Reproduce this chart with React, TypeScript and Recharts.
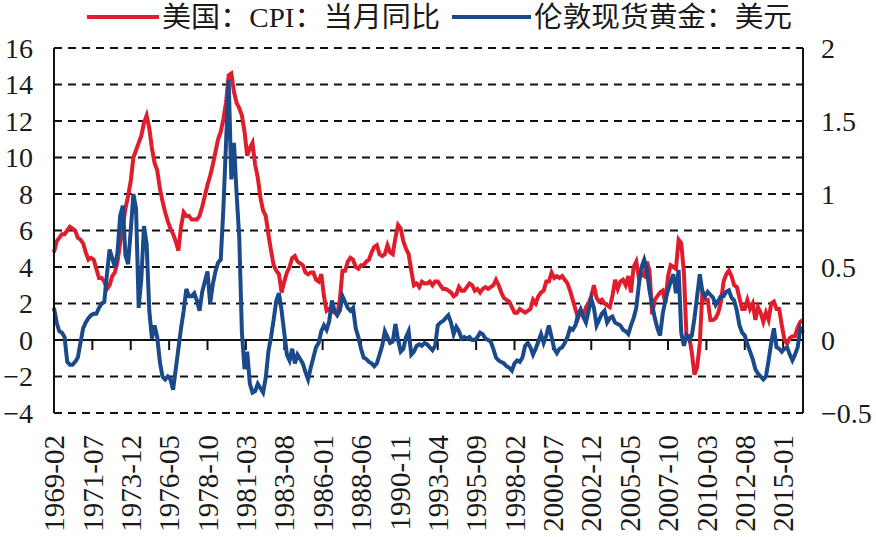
import React from "react";
import {
  LineChart,
  Line,
  XAxis,
  YAxis,
  CartesianGrid,
  ReferenceLine,
} from "recharts";

// tick labels on the category axis, one every 29 months starting 1969-02
const xLabels = [
  "1969-02", "1971-07", "1973-12", "1976-05", "1978-10", "1981-03", "1983-08",
  "1986-01", "1988-06", "1990-11", "1993-04", "1995-09", "1998-02", "2000-07",
  "2002-12", "2005-05", "2007-10", "2010-03", "2012-08", "2015-01",
];

const leftTicks = [-4, -2, 0, 2, 4, 6, 8, 10, 12, 14, 16];
const rightTicks = [-0.5, 0, 0.5, 1, 1.5, 2];

// 美国：CPI：当月同比 (%), every second month from 1969-02 to 2016-04
const cpiYoY = [
  4.8, 5.4, 5.6, 5.8, 5.8, 6.0,
  6.2, 6.1, 6.0, 5.6, 5.5, 5.3,
  4.8, 4.4, 4.5, 4.4, 3.9, 3.4,
  3.4, 3.2, 2.8, 3.0, 3.5, 3.7,
  4.3, 5.3, 6.2, 7.2, 7.9, 8.7,
  10.0, 10.4, 10.8, 11.2, 11.9, 12.3,
  11.6, 10.5, 9.7, 9.3, 8.3, 7.6,
  7.0, 6.5, 6.1, 5.8, 5.4, 4.9,
  6.2, 7.0, 6.8, 6.8, 6.6, 6.6,
  6.6, 6.8, 7.3, 7.9, 8.5, 9.0,
  9.6, 10.3, 11.0, 11.4, 12.1, 13.0,
  14.5, 14.6, 13.6, 13.0, 12.7, 12.3,
  11.4, 10.1, 10.5, 10.8, 9.6, 8.9,
  7.8, 7.1, 6.8, 5.8, 4.9, 4.1,
  3.8, 3.6, 2.6, 3.2, 3.7, 4.0,
  4.5, 4.6, 4.3, 4.2, 4.1, 3.7,
  3.6, 3.7, 3.7, 3.3, 3.2, 3.6,
  2.4, 1.6, 1.7, 1.6, 1.5, 1.4,
  2.2, 3.8, 3.8, 4.3, 4.5, 4.4,
  4.0, 3.9, 4.1, 4.1, 4.3, 4.4,
  4.8, 5.1, 5.2, 4.7, 4.6, 4.7,
  5.2, 4.8, 4.7, 5.6, 6.3, 6.1,
  5.4, 5.0, 4.7, 3.8, 3.0, 3.1,
  2.9, 3.2, 3.1, 3.1, 3.2, 3.0,
  3.2, 3.2, 3.0, 2.8, 2.8, 2.7,
  2.6, 2.4, 2.5, 2.9, 2.7, 2.7,
  2.9, 3.1, 3.0, 2.7, 2.8, 2.6,
  2.8, 2.9, 2.8, 2.9, 3.0, 3.3,
  3.0, 2.6, 2.3, 2.2, 2.1, 1.8,
  1.5, 1.5, 1.7, 1.6, 1.5, 1.6,
  1.7, 2.2, 2.0, 2.4, 2.6, 2.7,
  3.2, 3.2, 3.7, 3.4, 3.5, 3.4,
  3.5, 3.3, 3.1, 2.7, 2.2, 1.7,
  1.2, 1.6, 1.3, 1.8, 2.0, 2.4,
  3.0, 2.3, 2.1, 2.2, 2.0, 1.9,
  1.8, 2.4, 3.3, 2.8, 3.2, 3.3,
  3.0, 3.5, 2.6, 4.0, 4.3, 3.4,
  3.6, 3.5, 4.3, 3.8, 1.4, 2.2,
  2.4, 2.6, 2.7, 2.0, 3.5, 4.1,
  4.0, 3.9, 5.5, 5.3, 3.7, 0.1,
  0.2, -0.7, -1.9, -1.5, -0.2, 2.7,
  2.2, 2.2, 1.1, 1.1, 1.2, 1.5,
  2.1, 3.2, 3.6, 3.8, 3.5, 3.0,
  2.9, 2.3, 1.7, 1.7, 2.2, 1.7,
  2.0, 1.1, 1.8, 1.5, 1.0, 1.5,
  1.1, 2.0, 2.1, 1.7, 1.7, 0.8,
  0.0, -0.2, 0.1, 0.2, 0.2, 0.7,
  1.0, 1.1,
];

// 伦敦现货黄金：美元 (right axis), same months
const goldYoY = [
  0.22, 0.12, 0.06, 0.05, 0.02, -0.15,
  -0.17, -0.17, -0.15, -0.12, -0.02, 0.08,
  0.12, 0.15, 0.17, 0.18, 0.18, 0.22,
  0.25, 0.26, 0.45, 0.62, 0.56, 0.5,
  0.6, 0.85, 0.92, 0.58, 0.52, 0.75,
  1.0, 0.9, 0.22, 0.42, 0.78, 0.66,
  0.2, 0.01, 0.1, 0.02, -0.15, -0.25,
  -0.27, -0.25, -0.27, -0.34, -0.2, -0.06,
  0.08, 0.2, 0.35, 0.3, 0.3, 0.32,
  0.27, 0.2, 0.33, 0.4, 0.47, 0.25,
  0.38, 0.47, 0.53, 0.55, 0.9, 1.35,
  1.78, 1.1, 1.35, 1.0, 0.7, 0.05,
  -0.2, -0.08, -0.3, -0.36, -0.35, -0.3,
  -0.33, -0.36, -0.26, -0.08, 0.02, 0.14,
  0.27, 0.32, 0.2, 0.05, -0.1, -0.14,
  -0.06, -0.16, -0.1, -0.13, -0.16, -0.22,
  -0.27, -0.19, -0.12, -0.05, -0.02, 0.06,
  0.1, 0.07, 0.13, 0.27, 0.2, 0.17,
  0.2, 0.3, 0.26, 0.22, 0.2, 0.22,
  0.08, 0.02, -0.06, -0.12, -0.13, -0.15,
  -0.16, -0.18, -0.16, -0.1, -0.04, 0.06,
  0.02, -0.02, -0.01, 0.11, 0.0, -0.08,
  -0.06, 0.02, 0.06, -0.1, -0.08, -0.04,
  -0.03, -0.04, -0.02, -0.03, -0.05, -0.07,
  -0.04, 0.1, 0.12, 0.13, 0.15, 0.17,
  0.12, 0.04, 0.09, 0.06, 0.01, 0.02,
  0.01, 0.02, 0.0, 0.0, 0.02, 0.05,
  0.04, 0.01, 0.0, -0.01, -0.06, -0.12,
  -0.14, -0.15, -0.16, -0.18, -0.19, -0.21,
  -0.16, -0.14, -0.15, -0.12, -0.04, -0.02,
  -0.05, -0.1, -0.06, -0.01, 0.04, -0.02,
  0.03, 0.1, 0.02, -0.06, -0.09, -0.06,
  -0.05, -0.02, 0.02, 0.08, 0.07, 0.1,
  0.17, 0.21, 0.16, 0.12, 0.2, 0.28,
  0.22, 0.1, 0.14, 0.18, 0.2, 0.12,
  0.15, 0.16, 0.12, 0.11, 0.1, 0.07,
  0.06, 0.04, 0.1, 0.15, 0.22, 0.38,
  0.5, 0.55, 0.48, 0.34, 0.24, 0.15,
  0.08, 0.03, 0.18, 0.27, 0.34, 0.4,
  0.45, 0.32, 0.48, 0.05, -0.04, 0.03,
  0.0, 0.03, 0.15, 0.3, 0.45, 0.33,
  0.3, 0.33, 0.31, 0.29, 0.24, 0.27,
  0.3, 0.3, 0.33, 0.34, 0.29, 0.27,
  0.2, 0.1, 0.05, 0.03, -0.03, -0.08,
  -0.13, -0.2, -0.23, -0.25, -0.27, -0.25,
  -0.14, -0.02, 0.08, -0.05, -0.06, -0.08,
  -0.06, -0.05, -0.1, -0.14, -0.1, -0.05,
  0.08, 0.05,
];

const RED = "#e01d2d";
const BLUE = "#1b4a8a";
const FONT = "'Liberation Serif', 'Times New Roman', serif";
const LEGEND_FONT = "'Liberation Serif', 'Noto Sans CJK SC', serif";

// month index from 1969-02
const data = cpiYoY.map((v, i) => ({ m: i * 2, cpi: v, gold: goldYoY[i] }));
const xTicks = xLabels.map((_, i) => i * 29);

const fmt = (v: number) => (v < 0 ? "\u2212" + Math.abs(v) : String(v));

const XTick = (props: any) => {
  const { x, payload } = props;
  const y = 435;
  const label = xLabels[Math.round(payload.value / 29)] ?? "";
  return (
    <text
      x={x}
      y={y}
      dy="0.35em"
      textAnchor="end"
      transform={`rotate(-90, ${x}, ${y})`}
      fontSize={29}
      fontFamily={FONT}
      fill="#1a1a1a"
    >
      {label}
    </text>
  );
};

const LegendBar = () => (
  <svg
    width={876}
    height={40}
    style={{ position: "absolute", left: 0, top: 0, pointerEvents: "none" }}
  >
    <line x1={87} x2={159} y1={17} y2={17} stroke={RED} strokeWidth={4} />
    <text
      x={162}
      y={17}
      dominantBaseline="central"
      fontSize={28}
      fontFamily={LEGEND_FONT}
      fill="#1a1a1a"
      textLength={278}
      lengthAdjust="spacingAndGlyphs"
    >
      美国：CPI：当月同比
    </text>
    <line x1={452} x2={531} y1={17} y2={17} stroke={BLUE} strokeWidth={4} />
    <text
      x={534}
      y={17}
      dominantBaseline="central"
      fontSize={28}
      fontFamily={LEGEND_FONT}
      fill="#1a1a1a"
      textLength={258}
      lengthAdjust="spacingAndGlyphs"
    >
      伦敦现货黄金：美元
    </text>
  </svg>
);

export default function App() {
  return (
    <div
      style={{
        position: "absolute",
        left: 0,
        top: 0,
        width: 876,
        height: 537,
        background: "#fff",
      }}
    >
      <LineChart
        width={876}
        height={537}
        data={data}
        margin={{ top: 48, right: 0, bottom: 0, left: 0 }}
      >
        <CartesianGrid
          yAxisId="left"
          vertical={false}
          stroke="#111"
          strokeWidth={1.8}
          strokeDasharray="8 6"
        />
        <XAxis
          type="number"
          dataKey="m"
          domain={[0, 566]}
          ticks={xTicks}
          interval={0}
          height={124}
          axisLine={false}
          tickLine={false}
          tick={<XTick />}
        />
        <YAxis
          yAxisId="left"
          orientation="left"
          width={54}
          domain={[-4, 16]}
          ticks={leftTicks}
          interval={0}
          tickFormatter={fmt}
          tickLine={false}
          tickMargin={15}
          axisLine={{ stroke: "#111", strokeWidth: 2 }}
          tick={{ fontSize: 28, fontFamily: FONT, fill: "#1a1a1a" }}
        />
        <YAxis
          yAxisId="right"
          orientation="right"
          width={73}
          domain={[-0.5, 2]}
          ticks={rightTicks}
          interval={0}
          tickFormatter={fmt}
          tickLine={false}
          tickMargin={12}
          axisLine={{ stroke: "#111", strokeWidth: 2 }}
          tick={{ fontSize: 28, fontFamily: FONT, fill: "#1a1a1a", textAnchor: "start" }}
        />
        <ReferenceLine yAxisId="left" y={0} stroke="#111" strokeWidth={2.2} />
        {xTicks.slice(1).map((t) => (
          <ReferenceLine
            key={t}
            yAxisId="left"
            segment={[
              { x: t, y: 0 },
              { x: t, y: -0.55 },
            ]}
            stroke="#111"
            strokeWidth={2}
          />
        ))}
        <Line
          yAxisId="left"
          type="linear"
          dataKey="cpi"
          stroke={RED}
          strokeWidth={4}
          dot={false}
          isAnimationActive={false}
        />
        <Line
          yAxisId="right"
          type="linear"
          dataKey="gold"
          stroke={BLUE}
          strokeWidth={4}
          dot={false}
          isAnimationActive={false}
        />
      </LineChart>
      <LegendBar />
    </div>
  );
}
